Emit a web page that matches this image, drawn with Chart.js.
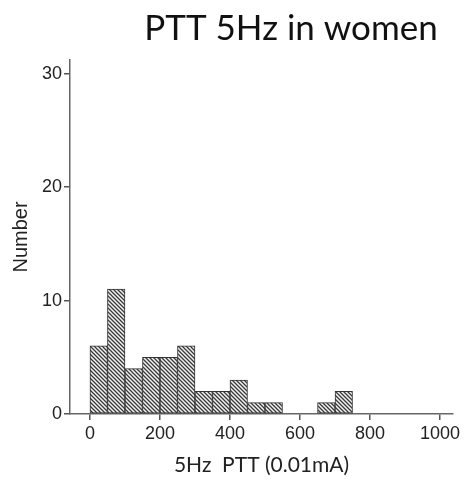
<!DOCTYPE html>
<html>
<head>
<meta charset="utf-8">
<script src="https://cdn.jsdelivr.net/npm/chart.js@4.4.1/dist/chart.umd.min.js"></script>
<style>
  html, body { margin:0; padding:0; background:#fff; }
  #wrap { width:466px; height:482px; }
</style>
</head>
<body>
<div id="wrap"><canvas id="hist" width="466" height="482"></canvas></div>
<script>
// ======== DATA =========
const binWidth = 50;
const binStarts = [0, 50, 100, 150, 200, 250, 300, 350, 400, 450, 500, 550, 600, 650, 700];
const counts    = [6, 11, 4, 5, 5, 6, 2, 2, 3, 1, 1, 0, 0, 1, 2];
const xTickValues = [0, 200, 400, 600, 800, 1000];
const yTickValues = [0, 10, 20, 30];

const chartTitle = 'PTT 5Hz in women';
const xTitle = '5Hz  PTT (0.01mA)';
const yTitle = 'Number';

const sansFont = "'Liberation Sans', Arial, sans-serif";

// ======== hatch pattern ========
function makeHatch(){
  const c = document.createElement('canvas');
  c.width = 4; c.height = 4;
  const g = c.getContext('2d');
  g.fillStyle = '#f2f2f2';
  g.fillRect(0, 0, 4, 4);
  g.strokeStyle = '#3a3a3a';
  g.lineWidth = 1.3;
  g.beginPath();
  g.moveTo(-1, -1); g.lineTo(5, 5);
  g.moveTo(-1, 3); g.lineTo(1, 5);
  g.moveTo(3, -1); g.lineTo(5, 1);
  g.stroke();
  return g.createPattern(c, 'repeat');
}

// ======== title (drawn on canvas, right part of the chart) ========
const titlePlugin = {
  id: 'topTitle',
  afterDraw(chart){
    const ctx = chart.ctx;
    ctx.save();
    ctx.font = '35px Lato';
    ctx.fillStyle = '#111';
    ctx.textAlign = 'center';
    ctx.textBaseline = 'alphabetic';
    ctx.fillText(chartTitle, 291, 40);
    ctx.restore();
  }
};

// ======== CHART ========
const points = binStarts.map((s, i) => ({ x: s + binWidth / 2, y: counts[i] || null }));

new Chart(document.getElementById('hist'), {
  type: 'bar',
  data: {
    datasets: [{
      data: points,
      backgroundColor: makeHatch(),
      borderColor: '#333',
      borderWidth: 1,
      borderSkipped: false,
      barPercentage: 1,
      categoryPercentage: 1
    }]
  },
  options: {
    responsive: false,
    animation: false,
    layout: { padding: { top: 60, right: 13, left: 0, bottom: 0 } },
    plugins: { legend: { display: false }, tooltip: { enabled: false }, title: { display: false } },
    scales: {
      x: {
        type: 'linear',
        min: -57, max: 1037,
        offset: false,
        afterBuildTicks: s => { s.ticks = xTickValues.map(v => ({ value: v })); },
        afterFit: s => { s.height = 68; },
        ticks: { font: { family: sansFont, size: 18 }, color: '#222', padding: 3, maxRotation: 0, callback: v => String(v) },
        grid: { display: true, offset: false, drawOnChartArea: false, drawTicks: true, tickLength: 6, color: '#555', lineWidth: 1.5 },
        border: { display: true, color: '#666', width: 1.5 },
        title: { display: true, text: xTitle, font: { family: 'Lato', size: 21 }, color: '#222', padding: { top: 0, bottom: 4 } }
      },
      y: {
        min: 0, max: 31.2,
        afterBuildTicks: s => { s.ticks = yTickValues.map(v => ({ value: v })); },
        afterFit: s => { s.width = 70; },
        ticks: { font: { family: sansFont, size: 18 }, color: '#222', padding: 2, callback: v => String(v) },
        grid: { display: true, drawOnChartArea: false, drawTicks: true, tickLength: 6, color: '#555', lineWidth: 1.5 },
        border: { display: true, color: '#666', width: 1.5 },
        title: { display: true, text: yTitle, font: { family: sansFont, size: 20 }, color: '#222', padding: { top: 9, bottom: 0 } }
      }
    }
  },
  plugins: [titlePlugin]
});
</script>
</body>
</html>
